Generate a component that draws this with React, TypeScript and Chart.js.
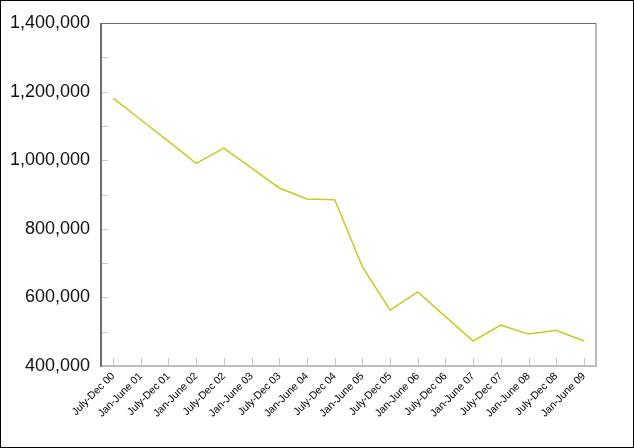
import React, { useEffect, useRef } from "react";
import { Chart, registerables } from "chart.js";

Chart.register(...registerables);

const categories = [
  "July-Dec 00", "Jan-June 01", "July-Dec 01", "Jan-June 02", "July-Dec 02",
  "Jan-June 03", "July-Dec 03", "Jan-June 04", "July-Dec 04", "Jan-June 05",
  "July-Dec 05", "Jan-June 06", "July-Dec 06", "Jan-June 07", "July-Dec 07",
  "Jan-June 08", "July-Dec 08", "Jan-June 09",
];

const values = [
  1181000, 1118000, 1055000, 991000, 1035000,
  977000, 919000, 887000, 885000, 690000,
  563000, 616000, 544000, 473000, 519000,
  493000, 504000, 473000,
];

const yMin = 400000;
const yMax = 1400000;
const yStep = 100000;

const framePlugin = {
  id: "framePlugin",
  afterDraw(chart: any) {
    const ctx = chart.ctx;
    const a = chart.chartArea;
    const xs = chart.scales.x;
    const ys = chart.scales.y;
    ctx.save();
    ctx.strokeStyle = "#c8c8c8";
    ctx.lineWidth = 1;
    ys.ticks.forEach((t: any) => {
      const y = Math.round(ys.getPixelForValue(t.value)) + 0.5;
      ctx.beginPath();
      ctx.moveTo(a.left, y);
      ctx.lineTo(a.left + 7, y);
      ctx.stroke();
    });
    xs.ticks.forEach((t: any) => {
      const x = Math.round(xs.getPixelForValue(t.value)) + 0.5;
      ctx.beginPath();
      ctx.moveTo(x, a.bottom);
      ctx.lineTo(x, a.bottom - 8);
      ctx.stroke();
    });
    ctx.strokeStyle = "#bdbdbd";
    ctx.lineWidth = 2;
    ctx.beginPath();
    ctx.moveTo(a.right, a.top);
    ctx.lineTo(a.right, a.bottom);
    ctx.lineTo(a.left, a.bottom);
    ctx.stroke();
    ctx.strokeStyle = "#6e6e6e";
    ctx.lineWidth = 1;
    ctx.beginPath();
    ctx.moveTo(a.left, a.top + 0.5);
    ctx.lineTo(a.right, a.top + 0.5);
    ctx.stroke();
    ctx.lineWidth = 2;
    ctx.beginPath();
    ctx.moveTo(a.left, a.top);
    ctx.lineTo(a.left, a.bottom + 1);
    ctx.stroke();
    ctx.strokeStyle = "#000";
    ctx.lineWidth = 1;
    ctx.strokeRect(0.5, 0.5, chart.width - 1, chart.height - 1);
    ctx.restore();
  },
};

export default function App() {
  const ref = useRef<HTMLCanvasElement>(null);
  useEffect(() => {
    document.body.style.margin = "0";
    const chart = new Chart(ref.current!, {
      type: "line",
      data: {
        datasets: [
          {
            data: values.map((v, i) => ({ x: i, y: v })),
            borderColor: "#c8c828",
            borderWidth: 1.5,
            pointRadius: 0,
            fill: false,
            tension: 0,
          },
        ],
      },
      options: {
        responsive: false,
        animation: false,
        layout: { padding: { left: 0, top: 23, right: 38, bottom: 0 } },
        plugins: { legend: { display: false }, tooltip: { enabled: false } },
        scales: {
          x: {
            type: "linear",
            min: -0.437,
            max: categories.length - 1 + 0.437,
            grid: { display: false, drawTicks: false },
            border: { display: false },
            afterFit: (s: any) => { s.height = 82; },
            ticks: {
              stepSize: 1,
              includeBounds: false,
              autoSkip: false,
              maxRotation: 45,
              minRotation: 45,
              padding: 4,
              color: "#000",
              font: { family: "'Liberation Sans', Arial, sans-serif", size: 10.5 },
              callback: (v: any) => categories[v] ?? "",
            },
          },
          y: {
            min: yMin,
            max: yMax,
            grid: { display: false, drawTicks: false },
            border: { display: false },
            afterFit: (s: any) => { s.width = 101; },
            ticks: {
              stepSize: yStep,
              padding: 11,
              color: "#111",
              font: { family: "'Liberation Sans', Arial, sans-serif", size: 18 },
              callback: (v: any) =>
                Number(v) % 200000 === 0 ? Number(v).toLocaleString("en-US") : "",
            },
          },
        },
      },
      plugins: [framePlugin],
    });
    return () => chart.destroy();
  }, []);
  return <canvas ref={ref} width={634} height={448} style={{ display: "block" }} />;
}
